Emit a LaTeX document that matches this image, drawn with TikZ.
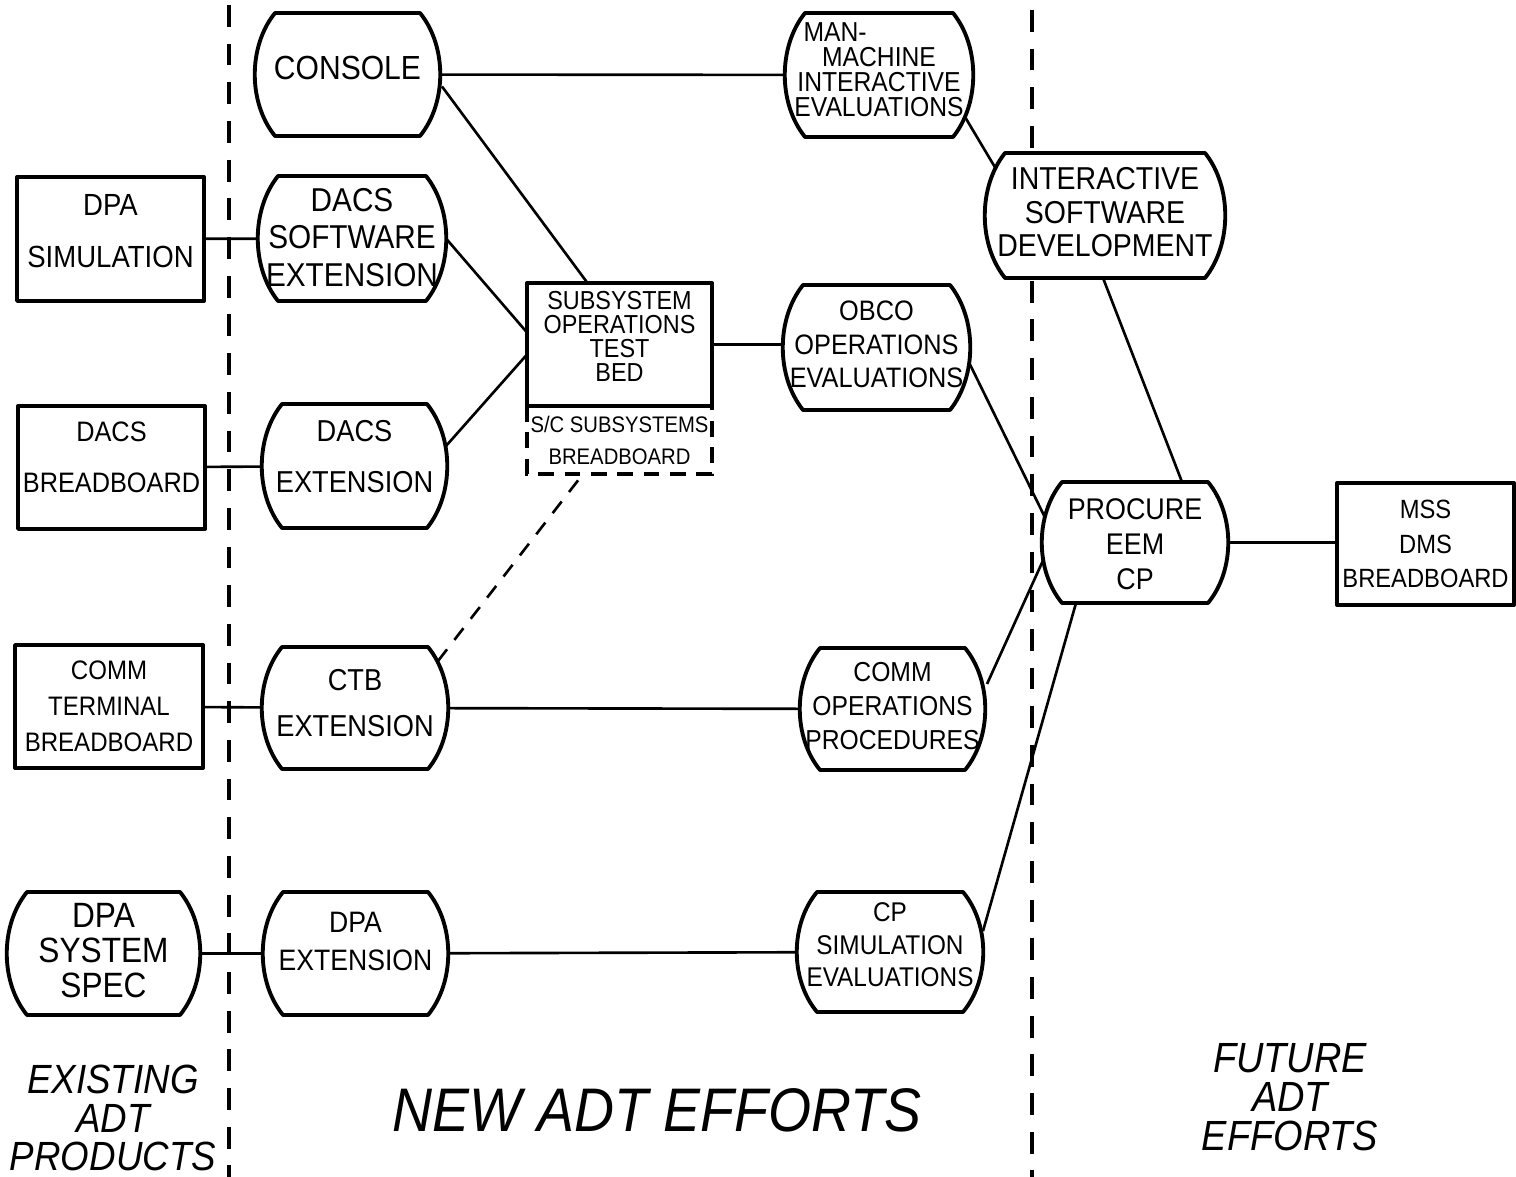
\documentclass[tikz,border=0pt]{standalone}
\usepackage{fontspec}
\setmainfont[FakeStretch=0.9]{Liberation Sans}
\usetikzlibrary{calc,fit}

\tikzset{
  outline/.style={line width=1.1pt, line join=round},
  link/.style={line width=0.75pt},
  weak/.style={line width=0.75pt, dash pattern=on 4.2pt off 3.4pt},
  dashbox/.style={line width=0.9pt, dash pattern=on 4.5pt off 3pt},
  divider/.style={line width=0.9pt, dash pattern=on 6.2pt off 4.8pt},
  holder/.style={inner sep=0pt, outer sep=0pt},
  lbl/.style={align=center, inner sep=0pt},
  fs/.style 2 args={font=\fontsize{#1}{#2}\selectfont},
  caption/.style={align=center, inner sep=0pt},
}

% barrel: flat top and bottom, bulging sides
% [text shift]{text style}{name}{x1}{y1}{x2}{y2}{text}
\newcommand\barrel[8][0]{%
  \node[holder, fit={(#4,#5) (#6,#7)}] (#3) {};
  \draw[outline, fill=white] ({#4+20},#5) -- ({#6-20},#5)
    .. controls ({#6+7},{#5+0.27*(#7-#5)}) and ({#6+7},{#7-0.27*(#7-#5)}) .. ({#6-20},#7)
    -- ({#4+20},#7)
    .. controls ({#4-7},{#7-0.27*(#7-#5)}) and ({#4-7},{#5+0.27*(#7-#5)}) .. cycle;
  \node[lbl, #2] (#3-text) at ($(#3.center)+(0,#1)$) {#8};
}
% plain rectangular block
\newcommand\block[8][0]{%
  \node[holder, outline, draw, fill=white, fit={(#4,#5) (#6,#7)}] (#3) {};
  \node[lbl, #2] (#3-text) at ($(#3.center)+(0,#1)$) {#8};
}

\begin{document}
\begin{tikzpicture}[x=0.01cm, y=-0.01cm]
\useasboundingbox (0,0) rectangle (1516,1177);

% column dividers
\draw[divider] (229,5) -- (229,1177);
\draw[divider] (1032,10) -- (1032,1177);

% existing products
\block[-8]{fs={8.7}{14.7}}{dpasim}{17}{177}{204}{301}{DPA\\SIMULATION}
\block[-10]{fs={8}{14.5}}{dacsbb}{18}{406}{205}{529}{DACS\\BREADBOARD}
\block{fs={7.6}{10.3}}{commbb}{15}{645}{203}{768}{COMM\\TERMINAL\\BREADBOARD}
\barrel[-3]{fs={10}{9.9}}{dpaspec}{7}{892}{200}{1015}{DPA\\SYSTEM\\SPEC}

% new efforts
\barrel[-6]{fs={9.5}{11}}{console}{255}{13}{440}{136}{CONSOLE}
\barrel[-1]{fs={9.4}{10.6}}{dacssw}{258}{176}{446}{301}{DACS\\SOFTWARE\\EXTENSION}
\barrel[-9]{fs={8.6}{14.5}}{dacsext}{262}{404}{447}{528}{DACS\\EXTENSION}
\barrel[-5]{fs={8.6}{13.3}}{ctbext}{262}{647}{448}{769}{CTB\\EXTENSION}
\barrel[-12]{fs={8.4}{10.8}}{dpaext}{263}{892}{448}{1015}{DPA\\EXTENSION}

\block[-8]{fs={7.4}{6.8}}{sotb}{527}{283}{712}{406}{SUBSYSTEM\\OPERATIONS\\TEST\\BED}
\node[holder, fit={(527,406) (712,474)}] (sbb) {};
\draw[dashbox] (sotb.south west) -- (sbb.south west) -- (sbb.south east) -- (sotb.south east);
\node[lbl, fs={6.4}{9.1}] (sbb-text) at (sbb.center) {S/C SUBSYSTEMS\\BREADBOARD};

\barrel[-5]{fs={7.8}{7.1}}{manmach}{785}{13}{973}{137}{MAN-\hspace*{3.2em}\\MACHINE\\INTERACTIVE\\EVALUATIONS}
\barrel[-3]{fs={8}{9.6}}{obco}{783}{285}{970}{410}{OBCO\\OPERATIONS\\EVALUATIONS}
\barrel[-3]{fs={7.8}{9.6}}{commops}{800}{648}{985}{770}{COMM\\OPERATIONS\\PROCEDURES}
\barrel[-7]{fs={7.7}{9.2}}{cpsim}{797}{892}{983}{1012}{CP\\SIMULATION\\EVALUATIONS}

% future efforts
\barrel[-3]{fs={9}{9.5}}{isd}{985}{153}{1225}{278}{INTERACTIVE\\SOFTWARE\\DEVELOPMENT}
\barrel[2]{fs={8.5}{9.9}}{procure}{1042}{482}{1228}{603}{PROCURE\\EEM\\CP}
\block{fs={7.5}{9.9}}{mss}{1337}{483}{1514}{605}{MSS\\DMS\\BREADBOARD}

% connections
\draw[link] (dpasim) -- (dacssw);
\draw[link] (dacsbb) -- (dacsext);
\draw[link] (commbb) -- (ctbext);
\draw[link] (dpaspec) -- (dpaext);
\draw[link] (console) -- (manmach);
\draw[link] (ctbext) -- (commops);
\draw[link] (dpaext) -- (cpsim);
\draw[link] (sotb.east) -- (sotb.east -| obco.west);
\draw[link] (procure.east) -- (procure.east -| mss.west);
\draw[link] ($(console.east)+(2,12)$) -- ($(sotb.north)+(-32,0)$);
\draw[link] (dacssw.east) -- ($(sotb.west)+(0,-12)$);
\draw[link] ($(dacsext.east)+(-1,-20)$) -- ($(sotb.west)+(0,10)$);
\draw[weak] ($(ctbext.north east)+(-10,14)$) -- ($(sbb.south west)+(56,0)$);
\draw[link] ($(manmach.south east)+(-8,-20)$) -- ($(isd.north west)+(11,16)$);
\draw[link] ($(isd.south)+(-2,0)$) -- ($(procure.north)+(47,0)$);
\draw[link] ($(obco.east)+(0,17)$) -- ($(procure.west)+(3,-25)$);
\draw[link] ($(commops.east)+(2,-25)$) -- ($(procure.west)+(1,18)$);
\draw[link] ($(cpsim.east)+(0,-21)$) -- ($(procure.south)+(-59,0)$);

% column captions
\node[caption, font=\itshape\fontsize{11.6}{10.9}\selectfont] (existing) at (113,1118) {EXISTING\\ADT\\PRODUCTS};
\node[caption, font=\itshape\fontsize{17.5}{20}\selectfont] (newefforts) at (657,1110) {NEW ADT EFFORTS};
\node[caption, font=\itshape\fontsize{12}{11}\selectfont] (future) at (1290,1097) {FUTURE\\ADT\\EFFORTS};
\end{tikzpicture}
\end{document}
